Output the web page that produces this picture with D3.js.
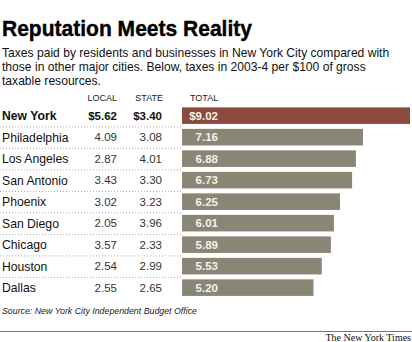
<!DOCTYPE html>
<html>
<head>
<meta charset="utf-8">
<script src="https://cdn.jsdelivr.net/npm/d3@7"></script>
<style>
  html, body { margin: 0; padding: 0; background: #fff; }
  svg { display: block; }
</style>
</head>
<body>
<script>
const cities = ["New York", "Philadelphia", "Los Angeles", "San Antonio", "Phoenix", "San Diego", "Chicago", "Houston", "Dallas"];
const localVals = [5.62, 4.09, 2.87, 3.43, 3.02, 2.05, 3.57, 2.54, 2.55];
const stateVals = [3.40, 3.08, 4.01, 3.30, 3.23, 3.96, 2.33, 2.99, 2.65];
const totalVals = [9.02, 7.16, 6.88, 6.73, 6.25, 6.01, 5.89, 5.53, 5.20];
const columnHeaders = ["LOCAL", "STATE", "TOTAL"];
const subtitleLines = [
  "Taxes paid by residents and businesses in New York City compared with",
  "those in other major cities. Below, taxes in 2003-4 per $100 of gross",
  "taxable resources."
];

const W = 412, H = 342;
const svg = d3.select("body").append("svg").attr("width", W).attr("height", H);
const sans = "'Liberation Sans', Arial, Helvetica, sans-serif";

// Title
svg.append("text")
  .attr("x", 2).attr("y", 36)
  .attr("font-family", sans).attr("font-weight", 900).attr("font-size", 22.5)
  .attr("textLength", 250).attr("lengthAdjust", "spacingAndGlyphs")
  .attr("fill", "#000").attr("stroke", "#000").attr("stroke-width", 0.4)
  .text("Reputation Meets Reality");

// Subtitle
svg.append("g").selectAll("text").data(subtitleLines).join("text")
  .attr("x", 2).attr("y", (d, i) => 57 + i * 14)
  .attr("font-family", sans).attr("font-size", 12.1).attr("fill", "#111")
  .text(d => d);

// Scales
const y = d3.scaleBand().domain(cities).range([104.9, 104.9 + 9 * 21.5]).paddingInner(0.23).paddingOuter(0.115);
const x = d3.scaleLinear().domain([0, 9.02]).range([182, 410]);

// Column headers
const headerX = [117, 163, 190];
const headerAnchor = ["end", "end", "start"];
svg.append("g").selectAll("text").data(columnHeaders).join("text")
  .attr("x", (d, i) => headerX[i]).attr("y", 100.5)
  .attr("text-anchor", (d, i) => headerAnchor[i])
  .attr("font-family", sans).attr("font-size", 9).attr("fill", "#222")
  .text(d => d);

// Dotted separators
const step = y.step();
svg.append("g").selectAll("line").data(cities.slice(0, -1)).join("line")
  .attr("x1", 0).attr("x2", 181)
  .attr("y1", d => y(d) - y.paddingOuter() * step + step + 0.5)
  .attr("y2", d => y(d) - y.paddingOuter() * step + step + 0.5)
  .attr("stroke", "#aaa").attr("stroke-width", 1).attr("stroke-dasharray", "1,2");

const rows = svg.append("g").selectAll("g").data(cities).join("g");
const cy = d => y(d) + y.bandwidth() / 2;

// Bars
rows.append("rect")
  .attr("x", x(0)).attr("y", d => y(d))
  .attr("width", (d, i) => x(totalVals[i]) - x(0))
  .attr("height", y.bandwidth())
  .attr("fill", (d, i) => i === 0 ? "#8c4a3f" : "#8a8675");

// City names
rows.append("text")
  .attr("x", 2).attr("y", d => cy(d) + 4.5)
  .attr("font-family", sans).attr("font-size", 12.2)
  .attr("font-weight", (d, i) => i === 0 ? "bold" : "normal")
  .attr("fill", "#111")
  .text(d => d);

const fmt = (v, i) => (i === 0 ? "$" : "") + v.toFixed(2);

// Local
rows.append("text")
  .attr("x", 117).attr("y", d => cy(d) + 4)
  .attr("text-anchor", "end")
  .attr("font-family", sans).attr("font-size", 11.5)
  .attr("font-weight", (d, i) => i === 0 ? "bold" : "normal")
  .attr("fill", (d, i) => i === 0 ? "#111" : "#333")
  .text((d, i) => fmt(localVals[i], i));

// State
rows.append("text")
  .attr("x", 162).attr("y", d => cy(d) + 4)
  .attr("text-anchor", "end")
  .attr("font-family", sans).attr("font-size", 11.5)
  .attr("font-weight", (d, i) => i === 0 ? "bold" : "normal")
  .attr("fill", (d, i) => i === 0 ? "#111" : "#333")
  .text((d, i) => fmt(stateVals[i], i));

// Total labels in bars
rows.append("text")
  .attr("x", 218).attr("y", d => cy(d) + 4)
  .attr("text-anchor", "end")
  .attr("font-family", sans).attr("font-size", 11.5).attr("font-weight", "bold")
  .attr("fill", "#f4f1ea")
  .text((d, i) => fmt(totalVals[i], i));

// Source
svg.append("text")
  .attr("x", 2).attr("y", 314)
  .attr("font-family", sans).attr("font-size", 8.8).attr("font-style", "italic")
  .attr("fill", "#222")
  .text("Source: New York City Independent Budget Office");

// Bottom rule
svg.append("line")
  .attr("x1", 0).attr("x2", W).attr("y1", 331.5).attr("y2", 331.5)
  .attr("stroke", "#777").attr("stroke-width", 1);

svg.append("text")
  .attr("x", 411).attr("y", 341)
  .attr("text-anchor", "end")
  .attr("font-family", "'Liberation Serif', 'Times New Roman', serif").attr("font-size", 10)
  .attr("fill", "#111")
  .text("The New York Times");
</script>
</body>
</html>
